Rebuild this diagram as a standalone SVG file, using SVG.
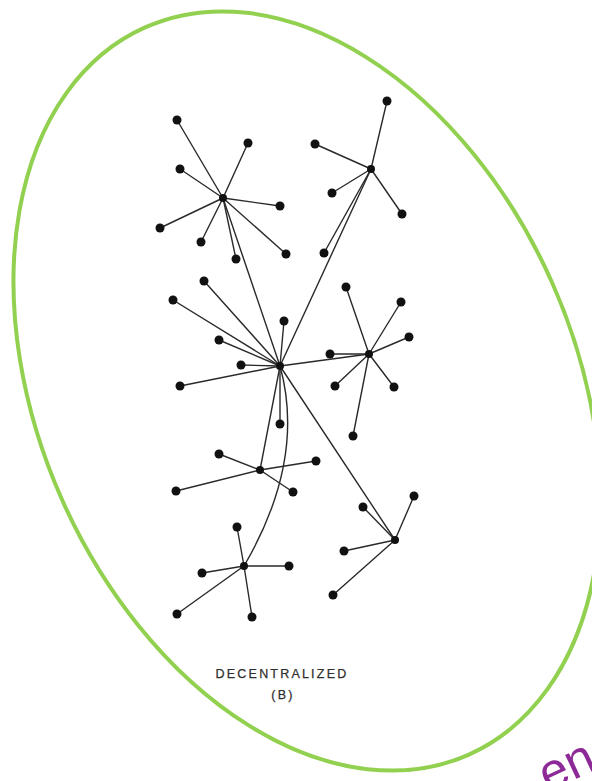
<svg xmlns="http://www.w3.org/2000/svg" width="592" height="781" viewBox="0 0 592 781">
<style>
.e{stroke:#2a2a2a;stroke-width:1.4;fill:none;stroke-linecap:round}
.d{fill:#111}
.lbl{font-family:"Liberation Sans",Arial,sans-serif;font-size:12.5px;fill:#2e2e2e;stroke:#2e2e2e;stroke-width:0.25;letter-spacing:2.2px;text-anchor:middle}
</style>
<rect width="592" height="781" fill="#fff"/>
<ellipse id="boundary" cx="307" cy="391" rx="398" ry="268" transform="rotate(66 307 391)" fill="none" stroke="#92d050" stroke-width="4"/>
<g id="connectors" class="e">
<line x1="223" y1="198" x2="177" y2="120"/>
<line x1="223" y1="198" x2="248" y2="143"/>
<line x1="223" y1="198" x2="180" y2="169"/>
<line x1="223" y1="198" x2="280" y2="206"/>
<line x1="223" y1="198" x2="160" y2="228"/>
<line x1="223" y1="198" x2="201" y2="242"/>
<line x1="223" y1="198" x2="236" y2="259"/>
<line x1="223" y1="198" x2="286" y2="254"/>
<line x1="371" y1="169" x2="387" y2="101"/>
<line x1="371" y1="169" x2="315" y2="144"/>
<line x1="371" y1="169" x2="332" y2="193"/>
<line x1="371" y1="169" x2="402" y2="214"/>
<line x1="371" y1="169" x2="324" y2="253"/>
<line x1="280" y1="366" x2="223" y2="198"/>
<line x1="280" y1="366" x2="371" y2="169"/>
<line x1="280" y1="366" x2="204" y2="281"/>
<line x1="280" y1="366" x2="173" y2="300"/>
<line x1="280" y1="366" x2="284" y2="321"/>
<line x1="280" y1="366" x2="219" y2="340"/>
<line x1="280" y1="366" x2="241" y2="365"/>
<line x1="280" y1="366" x2="180" y2="386"/>
<line x1="280" y1="366" x2="280" y2="424"/>
<line x1="280" y1="366" x2="369" y2="354"/>
<line x1="280" y1="366" x2="260" y2="470"/>
<line x1="280" y1="366" x2="395" y2="540"/>
<path d="M280 366 Q306 460 244 566"/>
<line x1="369" y1="354" x2="346" y2="287"/>
<line x1="369" y1="354" x2="401" y2="302"/>
<line x1="369" y1="354" x2="409" y2="337"/>
<line x1="369" y1="354" x2="330" y2="354"/>
<line x1="369" y1="354" x2="335" y2="386"/>
<line x1="369" y1="354" x2="394" y2="387"/>
<line x1="369" y1="354" x2="353" y2="436"/>
<line x1="260" y1="470" x2="219" y2="454"/>
<line x1="260" y1="470" x2="316" y2="461"/>
<line x1="260" y1="470" x2="176" y2="491"/>
<line x1="260" y1="470" x2="293" y2="492"/>
<line x1="244" y1="566" x2="237" y2="527"/>
<line x1="244" y1="566" x2="289" y2="566"/>
<line x1="244" y1="566" x2="202" y2="573"/>
<line x1="244" y1="566" x2="177" y2="614"/>
<line x1="244" y1="566" x2="252" y2="617"/>
<line x1="395" y1="540" x2="414" y2="496"/>
<line x1="395" y1="540" x2="363" y2="507"/>
<line x1="395" y1="540" x2="344" y2="551"/>
<line x1="395" y1="540" x2="333" y2="595"/>
</g>
<g id="hub-main" class="d"><circle cx="280" cy="366" r="4"/></g>
<g id="hub-1" class="d"><circle cx="223" cy="198" r="4"/></g>
<g id="hub-2" class="d"><circle cx="371" cy="169" r="4"/></g>
<g id="hub-3" class="d"><circle cx="369" cy="354" r="4"/></g>
<g id="hub-4" class="d"><circle cx="260" cy="470" r="4"/></g>
<g id="hub-5" class="d"><circle cx="244" cy="566" r="4"/></g>
<g id="hub-6" class="d"><circle cx="395" cy="540" r="4"/></g>
<g id="n1a" class="d"><circle cx="177" cy="120" r="4.5"/></g>
<g id="n1b" class="d"><circle cx="248" cy="143" r="4.5"/></g>
<g id="n1c" class="d"><circle cx="180" cy="169" r="4.5"/></g>
<g id="n1d" class="d"><circle cx="280" cy="206" r="4.5"/></g>
<g id="n1e" class="d"><circle cx="160" cy="228" r="4.5"/></g>
<g id="n1f" class="d"><circle cx="201" cy="242" r="4.5"/></g>
<g id="n1g" class="d"><circle cx="236" cy="259" r="4.5"/></g>
<g id="n1h" class="d"><circle cx="286" cy="254" r="4.5"/></g>
<g id="n2a" class="d"><circle cx="387" cy="101" r="4.5"/></g>
<g id="n2b" class="d"><circle cx="315" cy="144" r="4.5"/></g>
<g id="n2c" class="d"><circle cx="332" cy="193" r="4.5"/></g>
<g id="n2d" class="d"><circle cx="402" cy="214" r="4.5"/></g>
<g id="n2e" class="d"><circle cx="324" cy="253" r="4.5"/></g>
<g id="nma" class="d"><circle cx="204" cy="281" r="4.5"/></g>
<g id="nmb" class="d"><circle cx="173" cy="300" r="4.5"/></g>
<g id="nmc" class="d"><circle cx="284" cy="321" r="4.5"/></g>
<g id="nmd" class="d"><circle cx="219" cy="340" r="4.5"/></g>
<g id="nme" class="d"><circle cx="241" cy="365" r="4.5"/></g>
<g id="nmf" class="d"><circle cx="180" cy="386" r="4.5"/></g>
<g id="nmg" class="d"><circle cx="280" cy="424" r="4.5"/></g>
<g id="n3a" class="d"><circle cx="346" cy="287" r="4.5"/></g>
<g id="n3b" class="d"><circle cx="401" cy="302" r="4.5"/></g>
<g id="n3c" class="d"><circle cx="409" cy="337" r="4.5"/></g>
<g id="n3d" class="d"><circle cx="330" cy="354" r="4.5"/></g>
<g id="n3e" class="d"><circle cx="335" cy="386" r="4.5"/></g>
<g id="n3f" class="d"><circle cx="394" cy="387" r="4.5"/></g>
<g id="n3g" class="d"><circle cx="353" cy="436" r="4.5"/></g>
<g id="n4a" class="d"><circle cx="219" cy="454" r="4.5"/></g>
<g id="n4b" class="d"><circle cx="316" cy="461" r="4.5"/></g>
<g id="n4c" class="d"><circle cx="176" cy="491" r="4.5"/></g>
<g id="n4d" class="d"><circle cx="293" cy="492" r="4.5"/></g>
<g id="n5a" class="d"><circle cx="237" cy="527" r="4.5"/></g>
<g id="n5b" class="d"><circle cx="289" cy="566" r="4.5"/></g>
<g id="n5c" class="d"><circle cx="202" cy="573" r="4.5"/></g>
<g id="n5d" class="d"><circle cx="177" cy="614" r="4.5"/></g>
<g id="n5e" class="d"><circle cx="252" cy="617" r="4.5"/></g>
<g id="n6a" class="d"><circle cx="414" cy="496" r="4.5"/></g>
<g id="n6b" class="d"><circle cx="363" cy="507" r="4.5"/></g>
<g id="n6c" class="d"><circle cx="344" cy="551" r="4.5"/></g>
<g id="n6d" class="d"><circle cx="333" cy="595" r="4.5"/></g>
<g id="caption">
<text class="lbl" x="282" y="678">DECENTRALIZED</text>
<text class="lbl" x="283" y="699">(B)</text>
</g>
<text transform="translate(548,792) rotate(-25)" font-family="Liberation Sans,Arial,sans-serif" font-size="50" fill="#8e2a97">en</text>
</svg>
